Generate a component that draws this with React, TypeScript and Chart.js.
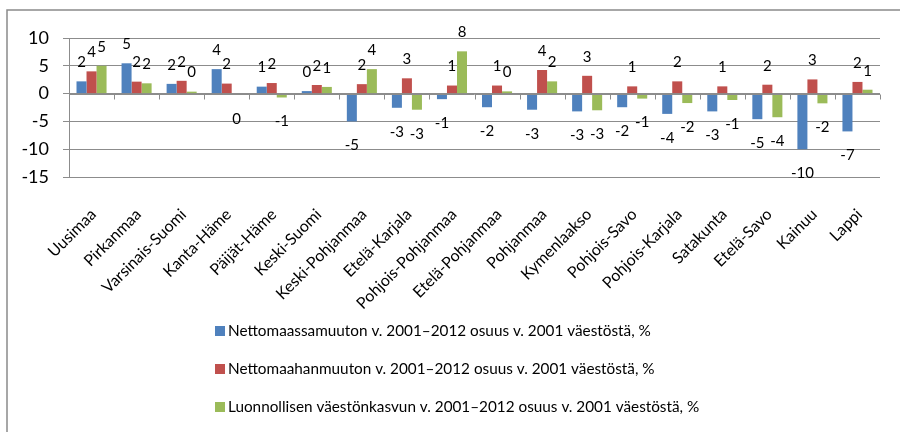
import { useEffect, useRef } from 'react';
import { Chart, registerables } from 'chart.js';

Chart.register(...registerables);

const categories = [
  'Uusimaa', 'Pirkanmaa', 'Varsinais-Suomi', 'Kanta-Häme', 'Päijät-Häme', 'Keski-Suomi',
  'Keski-Pohjanmaa', 'Etelä-Karjala', 'Pohjois-Pohjanmaa', 'Etelä-Pohjanmaa', 'Pohjanmaa',
  'Kymenlaakso', 'Pohjois-Savo', 'Pohjois-Karjala', 'Satakunta', 'Etelä-Savo', 'Kainuu', 'Lappi',
];

const seriesNames = [
  'Nettomaassamuuton v. 2001–2012 osuus v. 2001 väestöstä, %',
  'Nettomaahanmuuton v. 2001–2012 osuus v. 2001 väestöstä, %',
  'Luonnollisen väestönkasvun v. 2001–2012 osuus v. 2001 väestöstä, %',
];

const domesticMigration = [2.2, 5.45, 1.75, 4.4, 1.25, 0.45, -5.0, -2.55, -1.0, -2.45, -2.9, -3.2, -2.45, -3.65, -3.2, -4.6, -10.0, -6.8];
const immigration = [4.0, 2.15, 2.3, 1.8, 1.9, 1.55, 1.7, 2.75, 1.45, 1.45, 4.25, 3.2, 1.3, 2.2, 1.3, 1.6, 2.55, 2.1];
const naturalGrowth = [5.0, 1.85, 0.35, -0.2, -0.7, 1.2, 4.4, -2.9, 7.6, 0.4, 2.2, -3.0, -0.9, -1.7, -1.15, -4.25, -1.75, 0.7];

const colors = ['#4F81BD', '#C0504D', '#9BBB59'];
const yTicks = [-15, -10, -5, 0, 5, 10];

const FONT = 'Lato, "Noto Sans", sans-serif';
const GRID = '#8c8c8c';

const decorPlugin = {
  id: 'decor',
  beforeDraw(chart: any) {
    const ctx = chart.ctx;
    ctx.save();
    ctx.fillStyle = '#ffffff';
    ctx.fillRect(0, 0, chart.width, chart.height);
    ctx.strokeStyle = '#8a8a8a';
    ctx.lineWidth = 1.5;
    ctx.strokeRect(7, 10, chart.width + 50, chart.height + 50);
    ctx.restore();
  },
  afterDatasetsDraw(chart: any) {
    const ctx = chart.ctx;
    const x = chart.scales.x;
    const y = chart.scales.y;
    const y0 = Math.round(y.getPixelForValue(0)) + 0.5;
    ctx.save();
    ctx.strokeStyle = GRID;
    ctx.lineWidth = 1;
    ctx.beginPath();
    ctx.moveTo(chart.chartArea.left, y0);
    ctx.lineTo(chart.chartArea.right, y0);
    for (let i = 0; i <= categories.length; i++) {
      const px = Math.round(x.getPixelForValue(i - 0.5)) + 0.5;
      ctx.moveTo(px, y0);
      ctx.lineTo(px, y0 + 5);
    }
    ctx.stroke();

    ctx.fillStyle = '#000';
    ctx.font = `15px ${FONT}`;
    ctx.textAlign = 'center';
    ctx.textBaseline = 'middle';
    chart.data.datasets.forEach((ds: any, di: number) => {
      const meta = chart.getDatasetMeta(di);
      meta.data.forEach((bar: any, i: number) => {
        const v = ds.data[i];
        const r = Math.round(v);
        const txt = (r === 0 ? 0 : r).toString();
        const ly = v >= 0 ? Math.min(bar.y, bar.base) - 19 : Math.max(bar.y, bar.base) + 24;
        ctx.fillText(txt, bar.x, ly);
      });
    });
    ctx.restore();
  },
  afterDraw(chart: any) {
    const ctx = chart.ctx;
    ctx.save();
    ctx.font = `15.3px ${FONT}`;
    ctx.textAlign = 'left';
    ctx.textBaseline = 'middle';
    chart.data.datasets.forEach((ds: any, i: number) => {
      const cy = 331 + i * 38;
      ctx.fillStyle = ds.backgroundColor;
      ctx.fillRect(215, cy - 5, 10, 10);
      ctx.fillStyle = '#000';
      ctx.fillText(ds.label, 228, cy);
    });
    ctx.restore();
  },
};

export default function App() {
  const ref = useRef<HTMLCanvasElement>(null);
  useEffect(() => {
    const chart = new Chart(ref.current!, {
      type: 'bar',
      data: {
        labels: categories,
        datasets: [domesticMigration, immigration, naturalGrowth].map((d, i) => ({
          label: seriesNames[i],
          data: d,
          backgroundColor: colors[i],
          borderWidth: 0,
          categoryPercentage: 0.667,
          barPercentage: 1,
        })),
      },
      options: {
        responsive: false,
        animation: false,
        layout: { padding: { left: 0, right: 20, top: 38, bottom: 0 } },
        plugins: { legend: { display: false }, tooltip: { enabled: false } },
        scales: {
          x: {
            grid: { display: false },
            border: { display: false },
            ticks: {
              autoSkip: false,
              maxRotation: 45,
              minRotation: 45,
              padding: 20,
              labelOffset: 2,
              color: '#000',
              font: { family: FONT, size: 16 },
            },
            afterFit: (s: any) => { s.height = 255; },
          },
          y: {
            min: -15,
            max: 10,
            afterBuildTicks: (s: any) => { s.ticks = yTicks.map((v) => ({ value: v })); },
            ticks: { padding: 14, color: '#000', font: { family: FONT, size: 18 } },
            grid: { color: GRID, lineWidth: 1, tickLength: 6 },
            border: { color: GRID },
            afterFit: (s: any) => { s.width = 69; },
          },
        },
      },
      plugins: [decorPlugin],
    });
    return () => chart.destroy();
  }, []);
  return (
    <div style={{ position: 'absolute', left: 0, top: 0, width: 900, height: 432, background: '#fff' }}>
      <canvas ref={ref} width={900} height={432} style={{ display: 'block' }} />
    </div>
  );
}
